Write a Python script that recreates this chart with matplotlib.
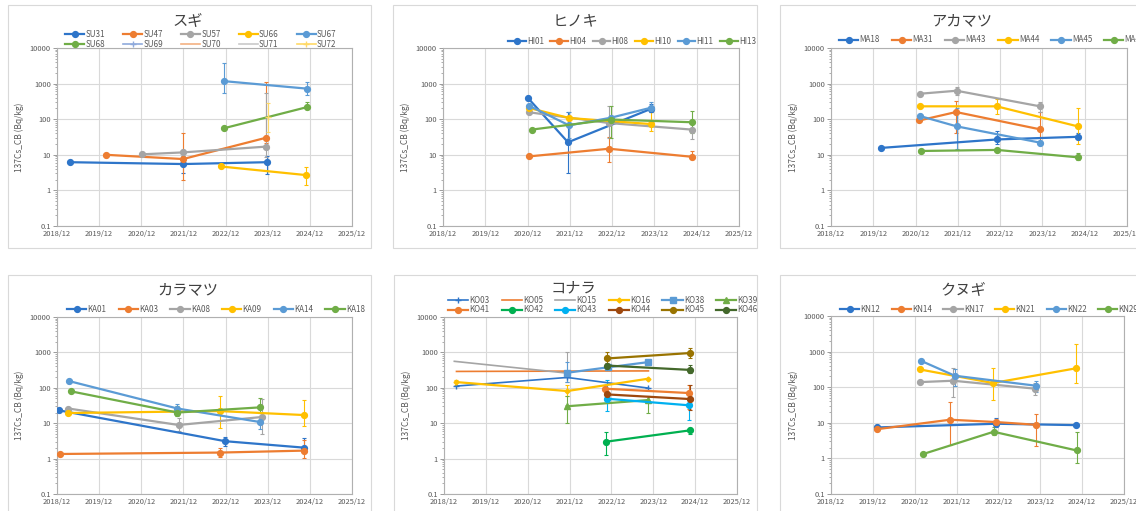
import matplotlib
matplotlib.use('Agg')
import matplotlib.pyplot as plt
from matplotlib.patches import Rectangle
from matplotlib.ticker import FixedLocator, NullFormatter, LogLocator
from datetime import datetime

plt.rcParams['font.family'] = ['Noto Sans CJK JP', 'DejaVu Sans']

W, H = 1136, 511

# ---- data ----
YEAR_TICKS = ["2018/12", "2019/12", "2020/12", "2021/12", "2022/12", "2023/12", "2024/12", "2025/12"]
Y_TICKS = [0.1, 1, 10, 100, 1000, 10000]
Y_LABELS = ["0.1", "1", "10", "100", "1000", "10000"]

# スギ
SU_NAMES = ["SU31", "SU47", "SU57", "SU66", "SU67", "SU68", "SU69", "SU70", "SU71", "SU72"]
SU_DATES = [["2019-03-20", "2021-12-01", "2023-11-25"],
            ["2020-01-30", "2021-11-28", "2023-11-15"],
            ["2020-12-05", "2021-12-01", "2023-11-20"],
            ["2022-10-20", "2024-10-25"],
            ["2022-11-20", "2024-11-10"],
            ["2022-11-20", "2024-11-10"],
            [], [], [],
            ["2023-12-01"]]
SU_VALS = [[6.2, 5.5, 6.2], [10, 7.6, 30], [10.3, 11.7, 17], [4.7, 2.7],
           [1170, 720], [56, 220], [], [], [], [116]]
SU_LO = [[None, 3.1, 2.8], [None, 1.9, 21], [None, 9, 8.7], [None, 1.4],
         [530, 470], [None, 190], [], [], [], [44]]
SU_HI = [[None, 9, 9], [None, 41, 1100], [None, 14, 550], [None, 4.4],
         [3700, 1100], [None, 300], [], [], [], [290]]

# ヒノキ
HI_NAMES = ["HI01", "HI04", "HI08", "HI10", "HI11", "HI13"]
HI_DATES = [["2020-12-05", "2021-11-15", "2023-11-01"],
            ["2020-12-10", "2022-11-05", "2024-10-20"],
            ["2020-12-10", "2022-11-05", "2024-10-20"],
            ["2020-12-10", "2021-11-25", "2023-11-01"],
            ["2020-12-12", "2021-11-25", "2022-11-20", "2023-11-01"],
            ["2021-01-05", "2022-11-20", "2024-10-25"]]
HI_VALS = [[390, 22.5, 195], [9.0, 14.8, 8.8], [157, 78, 51], [208, 108, 73],
           [240, 67, 110, 210], [51, 98, 82]]
HI_LO = [[None, 3, 160], [None, 6.3, 7.5], [None, 30, 28], [None, None, 47],
         [None, 30, None, 160], [None, 30, 40]]
HI_HI = [[None, 160, 260], [None, 32, 13], [None, 230, 80], [None, None, 160],
         [None, 160, None, 300], [None, 230, 170]]

# アカマツ
MA_NAMES = ["MA18", "MA31", "MA43", "MA44", "MA45", "MA48"]
MA_DATES = [["2020-02-05", "2022-11-05", "2024-10-01"],
            ["2021-01-01", "2021-11-15", "2023-11-10"],
            ["2021-01-10", "2021-11-20", "2023-11-10"],
            ["2021-01-10", "2022-11-01", "2024-10-01"],
            ["2021-01-10", "2021-11-20", "2023-11-10"],
            ["2021-01-15", "2022-11-05", "2024-10-01"]]
MA_VALS = [[15.6, 27, 32], [92, 159, 52], [520, 630, 230], [230, 230, 63],
           [122, 63, 22], [12.8, 13.7, 8.5]]
MA_LO = [[None, 20, 27], [None, 40, 20], [None, 470, 160], [None, 140, 20],
         [None, 15, None], [None, None, 7]]
MA_HI = [[None, 47, 42], [None, 330, 160], [None, 800, 300], [None, 360, 200],
         [None, 200, None], [None, None, 11]]

# カラマツ
KA_NAMES = ["KA01", "KA03", "KA08", "KA09", "KA14", "KA18"]
KA_DATES = [["2018-12-20", "2022-11-28", "2024-10-10"],
            ["2018-12-25", "2022-10-10", "2024-10-10"],
            ["2019-03-10", "2021-10-20", "2023-10-15"],
            ["2019-03-10", "2022-10-10", "2024-10-10"],
            ["2019-03-15", "2021-10-10", "2023-09-25"],
            ["2019-04-05", "2021-10-10", "2023-09-25"]]
KA_VALS = [[23, 3.1, 2.04], [1.35, 1.48, 1.68], [26, 8.9, 15], [19.4, 22, 17],
           [155, 26, 10.8], [79, 20, 28]]
KA_LO = [[None, 2.3, 1.6], [None, 1.1, 1.05], [None, 6, 5], [None, 7.2, 8.5],
         [None, 20, 7], [None, 16, 20]]
KA_HI = [[None, 4.2, 3.8], [None, 2.0, 3.3], [None, 14, 48], [None, 57, 46],
         [None, 35, 15], [None, 30, 50]]

# コナラ
KO_NAMES = ["KO03", "KO05", "KO15", "KO16", "KO38", "KO39",
            "KO41", "KO42", "KO43", "KO44", "KO45", "KO46"]
KO_DATES = [["2019-03-20", "2021-11-10", "2023-10-20"],
            ["2019-03-20", "2023-10-20"],
            ["2019-03-01", "2021-11-10"],
            ["2019-03-20", "2021-11-10", "2023-10-15"],
            ["2021-11-05", "2022-11-05", "2023-10-15"],
            ["2021-11-05", "2023-10-15"],
            ["2022-10-10", "2024-10-10"],
            ["2022-10-15", "2024-10-20"],
            ["2022-10-25", "2024-10-10"],
            ["2022-10-25", "2024-10-20"],
            ["2022-10-25", "2024-10-20"],
            ["2022-10-25", "2024-10-20"]]
KO_VALS = [[112, 196, 98], [290, 300], [560, 260], [145, 81, 180],
           [265, 380, 530], [30, 45], [94, 71], [3.0, 6.3], [49, 32],
           [65, 48], [675, 960], [425, 320]]
KO_LO = [[None, None, None], [None, None], [None, 150], [120, 60, None],
         [145, None, None], [10, 20], [None, 25], [1.3, 5], [22, 12],
         [None, 24], [500, 700], [None, 260]]
KO_HI = [[None, None, None], [None, None], [None, 1050], [170, 120, None],
         [530, None, None], [60, 60], [None, 120], [5.5, 7.5], [170, 45],
         [None, 120], [1050, 1300], [None, 450]]

# クヌギ
KN_NAMES = ["KN12", "KN14", "KN17", "KN21", "KN22", "KN29"]
KN_DATES = [["2020-01-05", "2022-11-10", "2024-10-10"],
            ["2020-01-05", "2021-10-05", "2022-11-10", "2023-10-25"],
            ["2021-01-15", "2021-11-01", "2023-10-15"],
            ["2021-01-15", "2022-10-15", "2024-10-10"],
            ["2021-01-25", "2021-11-15", "2023-10-25"],
            ["2021-02-10", "2022-10-20", "2024-10-15"]]
KN_VALS = [[7.4, 9.4, 8.6], [6.6, 12.2, 10.5, 8.8], [139, 152, 91],
           [315, 131, 340], [550, 210, 110], [1.32, 5.6, 1.67]]
KN_LO = [[None, 7.5, None], [None, 2.4, None, 2.2], [None, 53, 62],
         [None, 43, 135], [None, 110, 75], [None, 4.5, 0.75]]
KN_HI = [[None, 14, None], [None, 38, None, 18], [None, 340, 130],
         [None, 340, 1600], [None, 330, 145], [None, 7.5, 5.6]]

# ---- styles ----
C_BLUE = '#2E75C9'
C_ORANGE = '#ED7D31'
C_GRAY = '#A5A5A5'
C_GOLD = '#FFC000'
C_LBLUE = '#5B9BD5'
C_GREEN = '#70AD47'
BASE6 = [(C_BLUE, 'o'), (C_ORANGE, 'o'), (C_GRAY, 'o'), (C_GOLD, 'o'), (C_LBLUE, 'o'), (C_GREEN, 'o')]

SU_STYLE = BASE6 + [('#8FAADC', '+'), ('#F4B183', ''), ('#C9C9C9', ''), ('#FFD966', '+')]
KO_STYLE = [(C_BLUE, '+'), (C_ORANGE, ''), (C_GRAY, ''), (C_GOLD, 'D'), (C_LBLUE, 's'), (C_GREEN, '^'),
            (C_ORANGE, 'o'), ('#00B050', 'o'), ('#00B0F0', 'o'), ('#9E480E', 'o'), ('#997300', 'o'), ('#43682B', 'o')]

TEXT_C = '#595959'


def px_rect(x0, y0, x1, y1):
    return [x0 / W, 1 - y1 / H, (x1 - x0) / W, (y1 - y0) / H]


def to_dt(s):
    return datetime.fromisoformat(s)


def draw_panel(fig, rect, title, title_xy, names, dates, vals, los, his, styles,
               leg_xy, ncol, hlen, colspace):
    ax = fig.add_axes(px_rect(*rect))
    for name, d, v, lo, hi, (col, mk) in zip(names, dates, vals, los, his, styles):
        x = [to_dt(s) for s in d]
        thin = mk in ('', '+')
        ms = {'o': 4.2, 's': 4.5, '^': 4, 'D': 2.5, '+': 4, '': 0}[mk]
        ax.plot(x, v, color=col, lw=1.2 if thin else 1.6, marker=mk if mk else None,
                ms=ms, mew=1.0, label=name, zorder=3)
        for xi, vi, l, h in zip(x, v, lo, hi):
            if l is None:
                continue
            ax.errorbar([xi], [vi], yerr=[[vi - l], [h - vi]], fmt='none', ecolor=col,
                        elinewidth=0.8, capsize=1.6, capthick=0.8, zorder=2)

    ax.set_yscale('log')
    ax.set_ylim(0.1, 10000)
    ax.set_xlim(datetime(2018, 12, 1), datetime(2025, 12, 1))
    ax.yaxis.set_major_locator(FixedLocator(Y_TICKS))
    ax.set_yticklabels(Y_LABELS)
    ax.yaxis.set_minor_locator(LogLocator(base=10, subs=range(2, 10), numticks=20))
    ax.yaxis.set_minor_formatter(NullFormatter())
    xt = [datetime(int(t[:4]), 12, 1) for t in YEAR_TICKS]
    ax.set_xticks(xt)
    ax.set_xticklabels(YEAR_TICKS)
    ax.grid(True, which='major', color='#D9D9D9', lw=0.8, zorder=0)
    ax.set_axisbelow(True)
    for sp in ax.spines.values():
        sp.set_color('#B0B0B0')
        sp.set_linewidth(0.8)
    ax.tick_params(axis='both', which='major', labelsize=5.4, colors='#8C8C8C',
                   labelcolor=TEXT_C, length=3, width=0.6, pad=1.5)
    ax.tick_params(axis='y', which='minor', length=1.8, width=0.5, colors='#8C8C8C')
    ax.tick_params(axis='x', length=0, pad=3)
    ax.set_ylabel('137Cs_CB (Bq/kg)', fontsize=6, color=TEXT_C, labelpad=4)

    fig.text(title_xy[0] / W, 1 - title_xy[1] / H, title, fontsize=11,
             color='#404040', ha='center', va='center')

    handles, labels = ax.get_legend_handles_labels()
    nrow = (len(handles) + ncol - 1) // ncol
    # matplotlib fills legends column by column, Excel fills row by row
    order = [r * ncol + c for c in range(ncol) for r in range(nrow) if r * ncol + c < len(handles)]
    fig.legend([handles[i] for i in order], [labels[i] for i in order], loc='center left',
               bbox_to_anchor=(leg_xy[0] / W, 1 - leg_xy[1] / H), ncol=ncol,
               frameon=False, fontsize=5.8, handlelength=hlen, handletextpad=0.15,
               columnspacing=colspace, labelspacing=0.12, borderpad=0, borderaxespad=0,
               numpoints=1, labelcolor=TEXT_C)
    return ax


fig = plt.figure(figsize=(W / 100, H / 100), dpi=100)
fig.patch.set_facecolor('white')

# panel frames
for x0, y0, x1, y1 in [(8, 5, 371, 248), (393, 5, 757, 248), (780, 5, 1140, 248),
                       (8, 275, 371, 515), (394, 275, 757, 515), (780, 275, 1140, 515)]:
    fig.add_artist(Rectangle((x0 / W, 1 - y1 / H), (x1 - x0) / W, (y1 - y0) / H,
                             transform=fig.transFigure, fill=False,
                             edgecolor='#D9D9D9', lw=0.8))

draw_panel(fig, (57, 48, 352, 226), 'スギ', (188, 21), SU_NAMES, SU_DATES, SU_VALS,
           SU_LO, SU_HI, SU_STYLE, (65, 39.5), 5, 2.4, 2.2)
draw_panel(fig, (443, 48, 739, 226), 'ヒノキ', (575, 21), HI_NAMES, HI_DATES, HI_VALS,
           HI_LO, HI_HI, BASE6, (508, 41), 6, 2.2, 0.8)
draw_panel(fig, (831, 48, 1127, 226), 'アカマツ', (962, 21), MA_NAMES, MA_DATES, MA_VALS,
           MA_LO, MA_HI, BASE6, (839, 40), 6, 2.4, 1.5)
draw_panel(fig, (57, 317, 352, 494), 'カラマツ', (188, 290), KA_NAMES, KA_DATES, KA_VALS,
           KA_LO, KA_HI, BASE6, (67, 309), 6, 2.4, 1.5)
draw_panel(fig, (444, 317, 737, 494), 'コナラ', (573, 288), KO_NAMES, KO_DATES, KO_VALS,
           KO_LO, KO_HI, KO_STYLE, (448, 305), 6, 2.5, 1.5)
draw_panel(fig, (831, 316, 1124, 494), 'クヌギ', (963, 290), KN_NAMES, KN_DATES, KN_VALS,
           KN_LO, KN_HI, BASE6, (840, 309), 6, 2.4, 1.4)

fig.savefig('out.png', dpi=100, facecolor='white')
